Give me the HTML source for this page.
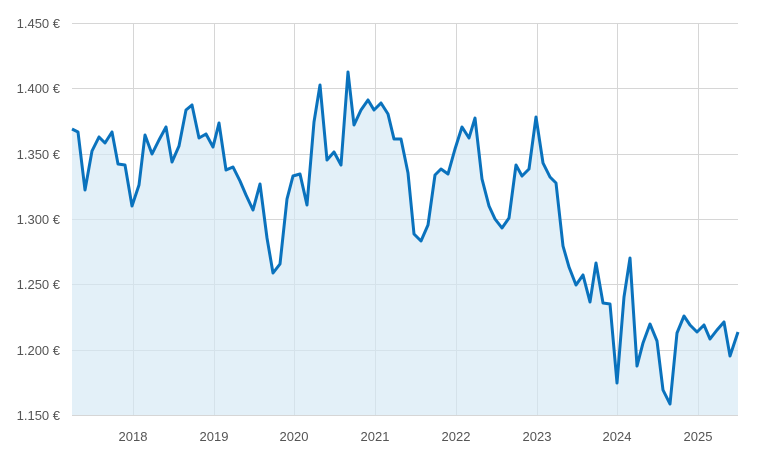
<!DOCTYPE html><html><head><style>body{margin:0;background:#fff}svg{display:block;font-family:"Liberation Sans",sans-serif}</style></head><body>
<svg width="758" height="453" xmlns="http://www.w3.org/2000/svg">
<g stroke="#d6d6d6" stroke-width="1">
<line x1="72" x2="738" y1="23.5" y2="23.5"/><line x1="72" x2="738" y1="88.5" y2="88.5"/><line x1="72" x2="738" y1="154.5" y2="154.5"/><line x1="72" x2="738" y1="219.5" y2="219.5"/><line x1="72" x2="738" y1="284.5" y2="284.5"/><line x1="72" x2="738" y1="350.5" y2="350.5"/><line x1="72" x2="738" y1="415.5" y2="415.5"/>
<line y1="23" y2="415" x1="133.5" x2="133.5"/><line y1="23" y2="415" x1="214.5" x2="214.5"/><line y1="23" y2="415" x1="294.5" x2="294.5"/><line y1="23" y2="415" x1="375.5" x2="375.5"/><line y1="23" y2="415" x1="456.5" x2="456.5"/><line y1="23" y2="415" x1="537.5" x2="537.5"/><line y1="23" y2="415" x1="617.5" x2="617.5"/><line y1="23" y2="415" x1="698.5" x2="698.5"/>
</g>
<path fill="#d4e8f5" fill-opacity="0.65" d="M72,129 78,132 85,190 92,151 99,137 105,143 112,132 118,164 125,165 132,206 139,185 145,135 152,154 159,140 166,127 172,162 179,146 186,110 192,105 199,138 206,134 213,147 219,123 226,170 233,167 240,181 246,195 253,210 260,184 267,238 273,273 280,264 287,199 293,176 300,174 307,205 314,122 320,85 327,160 334,152 341,165 348,72 354,125 361,110 368,100 374,110 381,103 388,114 394,139 401,139 408,173 414,234 421,241 428,225 435,175 441,169 448,174 455,149 462,127 469,138 475,118 482,179 489,206 495,219 502,228 509,218 516,165 522,176 529,169 536,117 543,163 550,177 556,183 563,246 569,267 576,285 583,275 590,302 596,263 603,303 610,304 617,383 624,297 630,258 637,366 643,343 650,324 657,341 663,390 670,404 677,333 684,316 690,325 697,332 704,325 710,339 717,330 724,322 730,356 738,332 L738,415 72,415Z"/>
<polyline fill="none" stroke="#0a72bd" stroke-width="3" stroke-linejoin="round" points="72,129 78,132 85,190 92,151 99,137 105,143 112,132 118,164 125,165 132,206 139,185 145,135 152,154 159,140 166,127 172,162 179,146 186,110 192,105 199,138 206,134 213,147 219,123 226,170 233,167 240,181 246,195 253,210 260,184 267,238 273,273 280,264 287,199 293,176 300,174 307,205 314,122 320,85 327,160 334,152 341,165 348,72 354,125 361,110 368,100 374,110 381,103 388,114 394,139 401,139 408,173 414,234 421,241 428,225 435,175 441,169 448,174 455,149 462,127 469,138 475,118 482,179 489,206 495,219 502,228 509,218 516,165 522,176 529,169 536,117 543,163 550,177 556,183 563,246 569,267 576,285 583,275 590,302 596,263 603,303 610,304 617,383 624,297 630,258 637,366 643,343 650,324 657,341 663,390 670,404 677,333 684,316 690,325 697,332 704,325 710,339 717,330 724,322 730,356 738,332"/>
<g fill="#555" font-size="13" text-anchor="end">
<text x="60" y="28">1.450 €</text><text x="60" y="93">1.400 €</text><text x="60" y="159">1.350 €</text><text x="60" y="224">1.300 €</text><text x="60" y="289">1.250 €</text><text x="60" y="355">1.200 €</text><text x="60" y="420">1.150 €</text>
</g>
<g fill="#555" font-size="13" text-anchor="middle">
<text x="133" y="441">2018</text><text x="214" y="441">2019</text><text x="294" y="441">2020</text><text x="375" y="441">2021</text><text x="456" y="441">2022</text><text x="537" y="441">2023</text><text x="617" y="441">2024</text><text x="698" y="441">2025</text>
</g>
</svg></body></html>
